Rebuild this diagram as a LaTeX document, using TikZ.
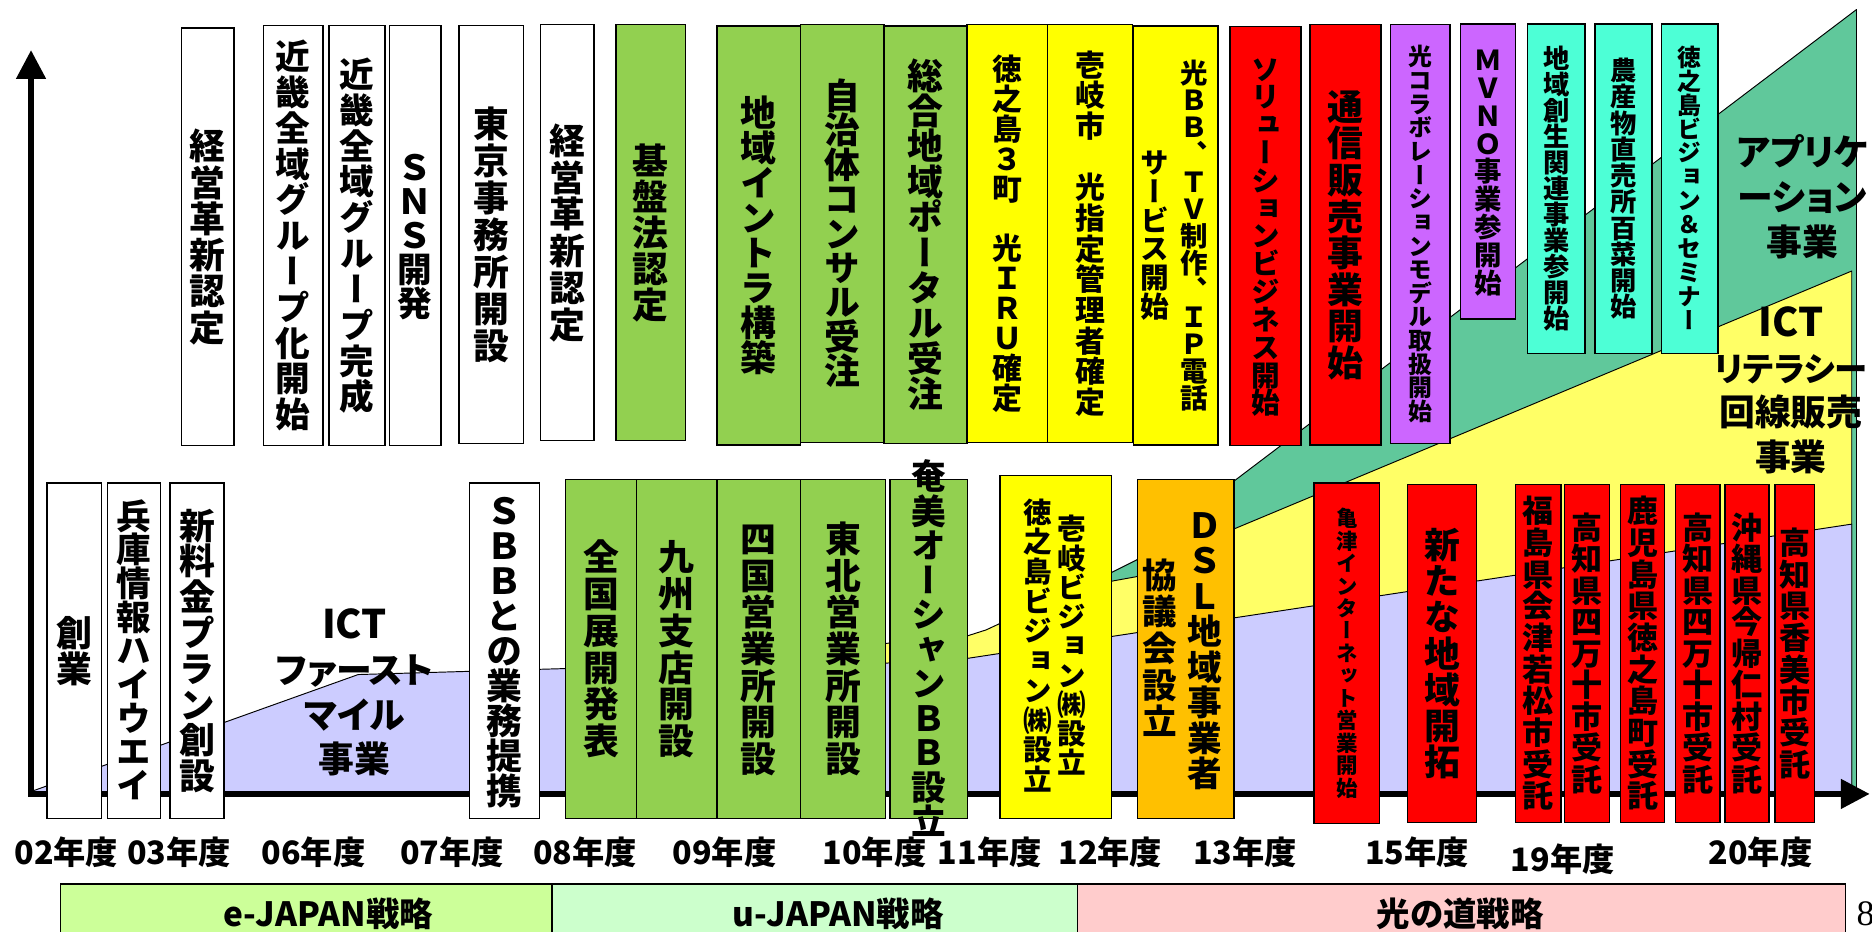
\documentclass[tikz,border=0pt]{standalone}
\usepackage{fontspec}
\setmainfont{Noto Sans CJK JP}
\newfontfamily\jpv{Noto Sans CJK JP}[RawFeature=+vert]
\newfontfamily\jph{Noto Sans CJK JP}[RawFeature=+palt]
\newfontfamily\serifnum{Liberation Serif}
\usetikzlibrary{arrows.meta}

\definecolor{bgreen}{HTML}{92D050}
\definecolor{byellow}{HTML}{FFFF00}
\definecolor{bred}{HTML}{FF0000}
\definecolor{bpurple}{HTML}{CC66FF}
\definecolor{bcyan}{HTML}{4DFFD6}
\definecolor{borange}{HTML}{FFC000}
\definecolor{rgreen}{RGB}{96,200,155}
\definecolor{ryellow}{HTML}{FFFF66}
\definecolor{rlav}{HTML}{CCCCFF}
\definecolor{ejapan}{HTML}{CCFF99}
\definecolor{ujapan}{HTML}{CCFFCC}
\definecolor{hikari}{HTML}{FFCCCC}

\ExplSyntaxOn
\NewDocumentCommand\vt{mmm}
 {
  \makebox[0pt]
   {
    \raisebox{-0.5\height}[0pt][0pt]
     {
      \jpv\bfseries\fontsize{#1}{#1}\selectfont
      \vbox
       {
        \offinterlineskip
        \tl_map_inline:nn {#3}
         {
          \vbox to #2pt
           {
            \vss
            \hbox to #1pt {\hss \rule{0pt}{0.88em}\rule[-0.12em]{0pt}{0.12em}\smash{##1}\hss}
            \vss
           }
         }
       }
     }
   }
 }
\ExplSyntaxOff

\tikzset{
  bx/.style={draw=black, line width=1.2pt, inner sep=0pt, anchor=north west},
  vtx/.style={inner sep=0pt},
  region/.style={draw=black, line width=0.8pt, line join=round},
  axisline/.style={line width=4.5pt, line join=miter,
     {Triangle[length=24pt,width=24pt]}-{Triangle[length=24pt,width=24pt]}},
  lbl/.style={font=\jph\bfseries\fontsize{30}{37.5}\selectfont, align=center, inner sep=0pt},
  yr/.style={font=\jph\bfseries\fontsize{27}{27}\selectfont, inner sep=0pt},
  strat/.style={draw=black, line width=1.5pt, anchor=north west, inner sep=0pt, minimum height=43pt},
  sttext/.style={font=\jph\bfseries\fontsize{28}{28}\selectfont, inner sep=0pt},
}
\newcommand\bx[7]{\node[bx,fill=#2,minimum width={#5-#3},minimum height={#6-#4}] (#1) at (#3,#4) {#7};}

\begin{document}
\begin{tikzpicture}[x=1pt,y=-1pt]
\useasboundingbox (0,0) rectangle (1568,780);

% background regions
\draw[region, fill=rgreen] (900,495) -- (930,480) -- (952,469) -- (1033,403.4) -- (1555,8) -- (1555,665) -- (900,665) -- cycle;
\draw[region, fill=ryellow] (700,545) -- (741,539) -- (810,532.7) -- (826,527.6) -- (838,522) -- (930,487) -- (952,483) -- (1033,443.3) -- (1551,227) -- (1551,665) -- (700,665) -- cycle;
\draw[region, fill=rlav] (26,665) -- (26,663) -- (300,565) -- (473,560) -- (741,555.5) -- (810,551.5) -- (1551,439) -- (1551,665) -- cycle;

% axes
\coordinate (O) at (26,665);
\coordinate (Ytip) at (26,42);
\coordinate (Xtip) at (1566,665);
\draw[axisline] (Ytip) -- (O) -- (Xtip);

% top row
\bx{b1}{white}{151.4}{23}{195.4}{372.7}{\vt{30}{30.4}{経営革新認定}}
\bx{b2}{white}{220}{20.7}{270}{372.7}{\vt{29}{30}{近畿全域グループ化開始}}
\bx{b3}{white}{275}{20.7}{322}{372.7}{\vt{29}{30}{近畿全域グループ完成}}
\bx{b4}{white}{325.6}{20.7}{368.6}{372.7}{\vt{29}{28.5}{ＳＮＳ開発}}
\bx{b5}{white}{384}{20.7}{438}{371}{\vt{30}{31}{東京事務所開設}}
\bx{b6}{white}{452}{20}{497}{368.5}{\vt{30}{30.8}{経営革新認定}}
\bx{b7}{bgreen}{515.5}{20}{573.6}{368.5}{\vt{30}{30.2}{基盤法認定}}
\bx{b8}{bgreen}{600}{21}{670}{372}{\vt{30}{29.3}{地域イントラ構築}}
\bx{b9}{bgreen}{670}{20}{740}{370}{\vt{30}{28.8}{自治体コンサル受注}}
\bx{b10}{bgreen}{740}{21}{809.5}{371}{\vt{30}{29.6}{総合地域ポータル受注}}
\bx{b11}{byellow}{809.5}{20}{877}{370}{\vt{25}{25}{徳之島３町　光ＩＲＵ確定}}
\bx{b12}{byellow}{877}{20}{948}{370}{\vt{25}{25.7}{壱岐市　光指定管理者確定}}
\bx{b13}{byellow}{948.7}{21}{1019.5}{372}{}
\node[vtx] (t13a) at (1000,197.5) {\vt{23}{22.7}{光ＢＢ、ＴＶ制作、ＩＰ電話}};
\node[vtx] (t13b) at (967.5,196.5) {\vt{24}{24.2}{サービス開始}};
\bx{b14}{bred}{1029.5}{21.5}{1089}{372.7}{\vt{24}{23.3}{ソリューションビジネス開始}}
\bx{b15}{bred}{1096.7}{20}{1156}{372}{\vt{30}{30.7}{通信販売事業開始}}
\bx{b16}{bpurple}{1164}{20}{1214}{371}{\vt{20}{19.8}{光コラボレーションモデル取扱開始}}
\bx{b17}{bpurple}{1222.8}{19.5}{1269}{266.6}{\vt{23}{23.4}{ＭＶＮＯ事業参開始}}
\bx{b18}{bcyan}{1278.9}{19.5}{1327}{295.4}{\vt{22}{21.8}{地域創生関連事業参開始}}
\bx{b19}{bcyan}{1335.3}{19.5}{1383}{295.4}{\vt{22}{22}{農産物直売所百菜開始}}
\bx{b20}{bcyan}{1391}{19.5}{1438.4}{295.4}{\vt{20}{20}{徳之島ビジョン＆セミナー}}

% bottom row
\bx{c1}{white}{38.8}{404}{84.5}{685}{\vt{30}{29.5}{創業}}
\bx{c2}{white}{89.4}{404}{134}{685}{\vt{29}{28.2}{兵庫情報ハイウエイ}}
\bx{c3}{white}{141.8}{404}{187}{685}{\vt{30}{30}{新料金プラン創設}}
\bx{c4}{white}{392.5}{404}{451.4}{685}{\vt{30}{29.3}{ＳＢＢとの業務提携}}
\bx{c5}{bgreen}{473}{401}{532.6}{685}{\vt{30}{30.9}{全国展開発表}}
\bx{c6}{bgreen}{532.6}{401}{600}{685}{\vt{30}{30.9}{九州支店開設}}
\bx{c7}{bgreen}{600}{401}{670}{685}{\vt{30}{30.7}{四国営業所開設}}
\bx{c8}{bgreen}{670}{401}{741}{685}{\vt{30}{30.7}{東北営業所開設}}
\bx{c9}{bgreen}{745}{401}{810}{685}{\vt{29}{28.9}{奄美オーシャンＢＢ設立}}
\bx{c10}{byellow}{837}{397.6}{930.6}{685}{}
\node[vtx] (t10a) at (898,541) {\vt{24}{24.5}{壱岐ビジョン㈱設立}};
\node[vtx] (t10b) at (869,541) {\vt{24}{24.9}{徳之島ビジョン㈱設立}};
\bx{c11}{borange}{952}{401}{1033}{685}{}
\node[vtx] (t11a) at (1009.5,544) {\vt{29}{29.7}{ＤＳＬ地域事業者}};
\node[vtx] (t11b) at (971.5,543) {\vt{29}{30.7}{協議会設立}};
\bx{c12}{bred}{1100}{404}{1155}{689}{\vt{18}{18.8}{亀津インターネット営業開始}}
\bx{c13}{bred}{1178.5}{405}{1236}{688.5}{\vt{30}{30.3}{新たな地域開拓}}
\bx{c14}{bred}{1269}{405}{1307}{688.5}{\vt{26}{26.5}{福島県会津若松市受託}}
\bx{c15}{bred}{1310}{405}{1347.5}{688.5}{\vt{26}{26.4}{高知県四万十市受託}}
\bx{c16}{bred}{1356.9}{405}{1393.8}{688.5}{\vt{26}{26.5}{鹿児島県徳之島町受託}}
\bx{c17}{bred}{1403}{405}{1440}{688.5}{\vt{26}{26.4}{高知県四万十市受託}}
\bx{c18}{bred}{1444.3}{405}{1481}{688.5}{\vt{26}{26.4}{沖縄県今帰仁村受託}}
\bx{c19}{bred}{1486}{405}{1519}{688.5}{\vt{26}{26.5}{高知県香美市受託}}

% region labels
\node[lbl] (L1) at (297,580) {{\fontsize{33}{37.5}\selectfont ICT}\\ファースト\\マイル\\事業};
\node[lbl] (L2) at (1510,165) {アプリケ\\ーション\\事業};
\node[lbl] (L3) at (1500,327) {{\fontsize{33}{37.5}\selectfont ICT}\\{\fontsize{28}{37.5}\selectfont リテラシー}\\回線販売\\事業};

% year labels
\node[yr] (y02) at (55.5,714) {02年度};
\node[yr] (y03) at (150,714) {03年度};
\node[yr] (y06) at (262.5,714) {06年度};
\node[yr] (y07) at (378.5,714) {07年度};
\node[yr] (y08) at (490,714) {08年度};
\node[yr] (y09) at (606.8,714) {09年度};
\node[yr] (y10) at (732.4,714) {10年度};
\node[yr] (y11) at (829,714) {11年度};
\node[yr] (y12) at (930,714) {12年度};
\node[yr] (y13) at (1043,714) {13年度};
\node[yr] (y15) at (1187,714) {15年度};
\node[yr] (y19) at (1309,720) {19年度};
\node[yr] (y20) at (1474.6,714) {20年度};

% strategy bar
\node[strat, fill=ejapan, minimum width=411.4pt] (s1) at (50,740) {};
\node[strat, fill=ujapan, minimum width=440.4pt] (s2) at (461.4,740) {};
\node[strat, fill=hikari, minimum width=643.2pt] (s3) at (901.8,740) {};
\node[sttext] (st1) at (275,765) {e-JAPAN戦略};
\node[sttext] (st2) at (702,765) {u-JAPAN戦略};
\node[sttext] (st3) at (1223,765) {光の道戦略};

\node[anchor=west, inner sep=0pt, font=\serifnum\fontsize{30}{30}\selectfont] (pg) at (1555,765) {8};
\end{tikzpicture}
\end{document}
